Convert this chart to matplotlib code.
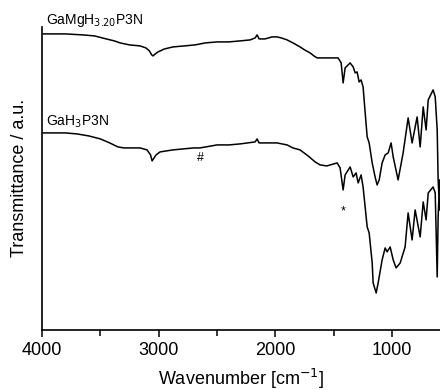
import numpy as np
import matplotlib
matplotlib.use("Agg")
import matplotlib.pyplot as plt
from matplotlib.ticker import MultipleLocator

plt.rcParams["font.family"] = ["Liberation Sans", "DejaVu Sans"]

# GaMgH3.20P3N (upper trace), arbitrary transmittance units
wn_mg = [3991, 3800, 3650, 3550, 3450, 3380, 3331, 3250, 3160, 3110, 3080, 3060, 3049,
         3030, 3006, 2950, 2877, 2780, 2689, 2600, 2500, 2400, 2303, 2217, 2174, 2157,
         2140, 2089, 2029, 1986, 1950, 1900, 1850, 1789, 1750, 1703, 1670, 1643, 1617,
         1463, 1437, 1420, 1403, 1360, 1334, 1317, 1300, 1283, 1266, 1249, 1231, 1214,
         1197, 1171, 1146, 1129, 1111, 1086, 1060, 1034, 1009, 991, 949, 906, 863, 829,
         786, 760, 734, 709, 691, 649, 631, 614, 606, 593]
tr_mg = [296, 296, 295, 294, 291, 289, 287, 285, 284, 282, 279, 275, 274,
         276, 278, 281, 283, 284, 285, 287, 288, 288, 289, 290, 292, 295,
         291, 291, 293, 293, 292, 290, 287, 283, 280, 277, 274, 272, 272,
         272, 267, 247, 262, 267, 263, 257, 258, 248, 250, 243, 217, 193,
         187, 167, 153, 145, 150, 167, 175, 177, 187, 173, 150, 177, 212, 187,
         213, 183, 223, 200, 230, 240, 233, 200, 150, 120]

# GaH3P3N (lower trace)
wn_ga = [3991, 3800, 3700, 3600, 3500, 3420, 3350, 3300, 3160, 3100, 3070, 3057, 3040,
         3023, 2989, 2880, 2791, 2700, 2646, 2500, 2400, 2303, 2174, 2157, 2140, 2050,
         1986, 1900, 1850, 1789, 1720, 1660, 1617, 1560, 1471, 1446, 1420, 1403, 1360,
         1334, 1309, 1291, 1266, 1249, 1214, 1197, 1171, 1163, 1137, 1120, 1086, 1060,
         1043, 1017, 991, 966, 931, 889, 863, 829, 803, 760, 734, 709, 691, 649, 631,
         614, 606, 593]
tr_ga = [197, 197, 196, 194, 191, 187, 183, 182, 182, 180, 175, 169, 172,
         175, 178, 180, 181, 182, 182, 185, 185, 186, 188, 191, 187, 187,
         187, 185, 182, 180, 174, 168, 165, 164, 167, 162, 140, 155, 163,
         153, 157, 147, 155, 143, 103, 97, 67, 47, 37, 47, 70, 82,
         78, 83, 70, 62, 67, 83, 117, 90, 120, 93, 128, 110, 137, 143, 137,
         53, 113, 150]

fig = plt.figure(figsize=(4.4, 3.9), dpi=100)
ax = fig.add_axes([0.0955, 0.154, 0.9045, 0.777])

ax.plot(wn_mg, tr_mg, color="black", linewidth=1.1)
ax.plot(wn_ga, tr_ga, color="black", linewidth=1.1)

ax.text(3970, 309, "GaMgH$_{3.20}$P3N", fontsize=10, va="center", ha="left", clip_on=False)
ax.text(3970, 208, "GaH$_3$P3N", fontsize=10, va="center", ha="left")
ax.text(2646, 172, "#", fontsize=9, va="center", ha="center")
ax.text(1420, 118, "*", fontsize=9, va="center", ha="center")

ax.set_xlim(4000, 590)
ax.set_ylim(0, 303)
ax.xaxis.set_major_locator(MultipleLocator(1000))
ax.xaxis.set_minor_locator(MultipleLocator(500))
ax.set_yticks([])
ax.tick_params(axis="x", which="major", direction="out", length=5, width=1.1, labelsize=13)
ax.tick_params(axis="x", which="minor", direction="out", length=4, width=1.1)

for side in ["top", "right"]:
    ax.spines[side].set_visible(False)
for side in ["left", "bottom"]:
    ax.spines[side].set_linewidth(1.2)

ax.set_xlabel("Wavenumber [cm$^{-1}$]", fontsize=13, labelpad=6)
ax.set_ylabel("Transmittance / a.u.", fontsize=13, labelpad=10)

fig.savefig("out.png", dpi=100)
